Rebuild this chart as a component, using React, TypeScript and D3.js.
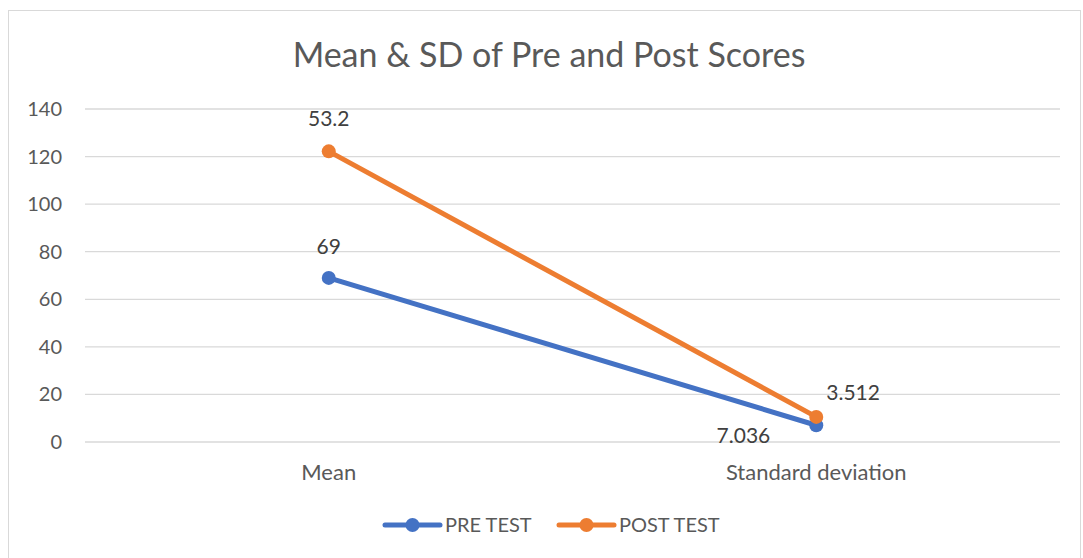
import React, { useEffect, useRef } from 'react';
import * as d3 from 'd3';

const categories = ['Mean', 'Standard deviation'];
const preTest = [69, 7.036];
const postTest = [53.2, 3.512];
const yTicks = [0, 20, 40, 60, 80, 100, 120, 140];

const App = () => {
  const svgRef = useRef<SVGSVGElement | null>(null);

  useEffect(() => {
    const width = 1083;
    const height = 558;
    const left = 85, right = 1060, top = 109, bottom = 442;
    const font = 'Lato, Carlito, sans-serif';
    const textColor = '#595959';

    const svg = d3.select(svgRef.current)
      .attr('width', width)
      .attr('height', height)
      .style('position', 'absolute')
      .style('left', 0)
      .style('top', 0)
      .style('font-family', font);
    svg.selectAll('*').remove();

    svg.append('rect')
      .attr('x', 8.5).attr('y', 10.5)
      .attr('width', 1072).attr('height', 560)
      .attr('fill', 'white').attr('stroke', '#d9d9d9');

    const x = d3.scaleBand().domain(categories).range([left, right]);
    const y = d3.scaleLinear().domain([0, 140]).range([bottom, top]);

    // stacked series
    const series = [
      { name: 'PRE TEST', color: '#4472C4', raw: preTest, vals: preTest },
      { name: 'POST TEST', color: '#ED7D31', raw: postTest, vals: postTest.map((v, i) => v + preTest[i]) },
    ];

    svg.append('text')
      .attr('x', 549).attr('y', 67)
      .attr('text-anchor', 'middle')
      .attr('font-size', 34)
      .attr('fill', textColor)
      .text('Mean & SD of Pre and Post Scores');

    svg.append('g')
      .selectAll('line')
      .data(yTicks)
      .join('line')
      .attr('x1', left).attr('x2', right)
      .attr('y1', d => y(d)).attr('y2', d => y(d))
      .attr('stroke', '#d9d9d9').attr('stroke-width', 1.3);

    svg.append('g')
      .selectAll('text')
      .data(yTicks)
      .join('text')
      .attr('x', 62).attr('y', d => y(d) + 7)
      .attr('text-anchor', 'end')
      .attr('font-size', 20)
      .attr('fill', textColor)
      .text(d => d);

    svg.append('g')
      .selectAll('text')
      .data(categories)
      .join('text')
      .attr('x', d => x(d)! + x.bandwidth() / 2)
      .attr('y', 480)
      .attr('text-anchor', 'middle')
      .attr('font-size', 22)
      .attr('fill', textColor)
      .text(d => d);

    const line = d3.line<number>()
      .x((_, i) => x(categories[i])! + x.bandwidth() / 2)
      .y(d => y(d));

    series.forEach(s => {
      svg.append('path')
        .attr('d', line(s.vals))
        .attr('fill', 'none')
        .attr('stroke', s.color)
        .attr('stroke-width', 5)
        .attr('stroke-linecap', 'round');
      svg.append('g')
        .selectAll('circle')
        .data(s.vals)
        .join('circle')
        .attr('cx', (_, i) => x(categories[i])! + x.bandwidth() / 2)
        .attr('cy', d => y(d))
        .attr('r', 7)
        .attr('fill', s.color);
    });

    // data labels
    const cx = (i: number) => x(categories[i])! + x.bandwidth() / 2;
    const labels = [
      { text: String(preTest[0]), x: cx(0), y: y(series[0].vals[0]) - 24, anchor: 'middle' },
      { text: String(postTest[0]), x: cx(0), y: y(series[1].vals[0]) - 25, anchor: 'middle' },
      { text: preTest[1].toFixed(3), x: cx(1) - 46, y: y(series[0].vals[1]) + 18, anchor: 'end' },
      { text: postTest[1].toFixed(3), x: cx(1) + 10, y: y(series[1].vals[1]) - 17, anchor: 'start' },
    ];
    svg.append('g')
      .selectAll('text')
      .data(labels)
      .join('text')
      .attr('x', d => d.x).attr('y', d => d.y)
      .attr('text-anchor', d => d.anchor)
      .attr('font-size', 21)
      .attr('fill', '#404040')
      .text(d => d.text);

    // legend
    const legendX = [385, 559];
    series.forEach((s, i) => {
      const g = svg.append('g').attr('transform', `translate(${legendX[i]},525)`);
      g.append('line')
        .attr('x1', 0).attr('x2', 55).attr('y1', 0).attr('y2', 0)
        .attr('stroke', s.color).attr('stroke-width', 5).attr('stroke-linecap', 'round');
      g.append('circle').attr('cx', 27.5).attr('r', 7).attr('fill', s.color);
      g.append('text')
        .attr('x', 60).attr('y', 7)
        .attr('font-size', 20)
        .attr('fill', textColor)
        .text(s.name);
    });
  }, []);

  return <svg ref={svgRef} />;
};

export default App;
